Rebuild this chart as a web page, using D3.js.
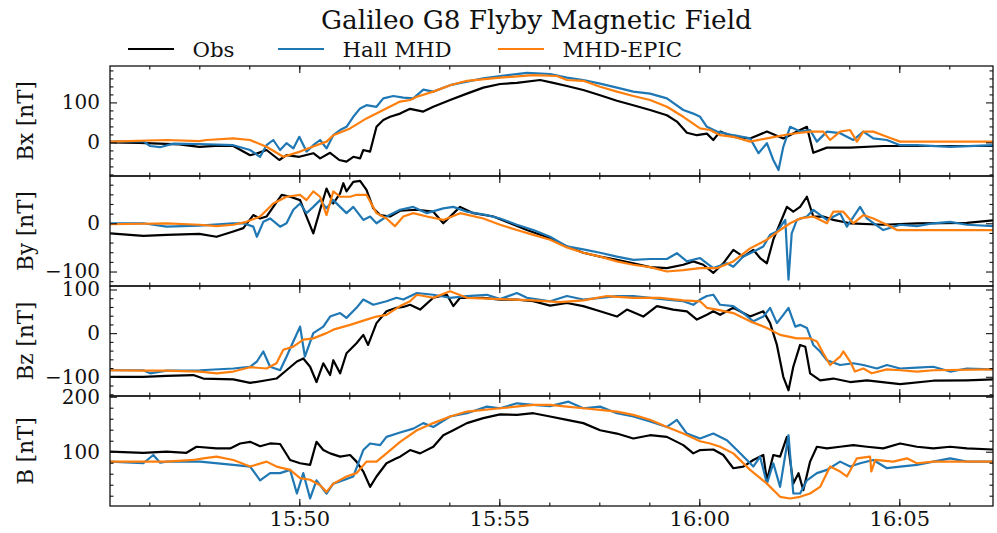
<!DOCTYPE html>
<html>
<head>
<meta charset="utf-8">
<script src="https://cdn.jsdelivr.net/npm/d3@7"></script>
<style>
  html, body { margin: 0; padding: 0; background: #fff; }
  svg { display: block; }
  text { font-family: "DejaVu Serif", serif; fill: #111; }
</style>
</head>
<body>
<svg id="chart" width="997" height="533"></svg>
<script>
// ---------------- DATA ----------------
// time in minutes after 15:45 (UT), values in nT
const title = "Galileo G8 Flyby Magnetic Field";
const seriesNames = ["Obs", "Hall MHD", "MHD-EPIC"];
const seriesColors = ["#000000", "#1f77b4", "#ff7f0e"];
const panelLabels = ["Bx [nT]", "By [nT]", "Bz [nT]", "B [nT]"];
const panelDomains = [[-84, 191], [-130, 98], [-144, 108], [1.3, 201.3]];
const panelMajorTicks = [[0, 100], [-100, 0], [-100, 0, 100], [100, 200]];
const timeRangeMin = [0.2675, 22.3425];
const xTickMinutes = [5, 10, 15, 20];

const bxObs = [[0.27,0],[1.0,-1],[2.0,-5],[2.5,-11],[3.0,-8],[3.35,-9],[3.77,-32],[3.93,-28],[4.18,-19],[4.5,-44],[4.68,-32],[5.0,-36],[5.35,-27],[5.52,-40],[5.77,-26],[6.0,-44],[6.18,-48],[6.35,-36],[6.52,-40],[6.6,-19],[6.77,-23],[6.93,39],[7.1,56],[7.27,64],[7.52,72],[7.77,84],[8.1,77],[8.35,89],[8.77,106],[9.19,122],[9.6,137],[10.02,146],[10.44,149],[11.02,156],[11.35,149],[11.69,141],[12.1,131],[12.52,118],[12.94,104],[13.35,93],[13.77,81],[14.19,68],[14.44,52],[14.69,24],[14.94,18],[15.19,22],[15.35,6],[15.52,27],[15.85,14],[16.27,10],[16.69,27],[17.1,10],[17.52,31],[17.69,39],[17.85,-26],[18.19,-13],[18.77,-13],[19.6,-9],[20.44,-9],[21.27,-9],[22.35,-9]];
const bxHall = [[0.27,2],[1.1,3],[1.27,-9],[1.52,-12],[1.85,-3],[2.5,-4],[3.35,-7],[3.77,-19],[4.02,-36],[4.18,-7],[4.35,6],[4.52,-19],[4.68,-2],[4.85,-15],[5.0,14],[5.18,-23],[5.35,-7],[5.52,6],[5.68,-15],[5.85,18],[6.02,31],[6.18,39],[6.35,64],[6.52,85],[6.68,93],[6.93,89],[7.1,110],[7.35,116],[7.6,112],[7.85,110],[8.1,132],[8.35,127],[8.77,143],[9.19,152],[9.6,160],[10.02,166],[10.69,174],[11.27,171],[11.69,162],[12.1,156],[12.52,147],[12.94,137],[13.35,127],[13.77,122],[14.19,110],[14.6,81],[14.85,72],[15.02,64],[15.19,39],[15.44,27],[15.85,18],[16.27,10],[16.48,-27],[16.69,-2],[16.85,-44],[16.98,-69],[17.1,-11],[17.27,39],[17.52,27],[17.77,31],[17.94,2],[18.19,27],[18.52,23],[18.85,6],[19.1,27],[19.35,10],[19.69,6],[20.02,-7],[20.44,-7],[21.27,-11],[22.35,-7]];
const bxEpic = [[0.27,2],[1.68,6],[2.5,3],[2.68,6],[3.35,10],[3.77,6],[4.18,-11],[4.6,-36],[5.02,-23],[5.43,-7],[5.68,2],[5.85,18],[6.27,35],[6.68,60],[7.1,81],[7.52,102],[7.77,106],[7.94,114],[8.35,127],[8.77,143],[9.19,154],[10.02,162],[10.85,168],[11.44,166],[11.69,156],[12.1,154],[12.52,139],[12.94,127],[13.35,116],[13.77,106],[14.19,89],[14.6,64],[15.02,35],[15.27,31],[15.52,18],[15.85,14],[16.27,2],[16.69,10],[17.27,21],[17.77,27],[18.1,27],[18.27,6],[18.52,27],[18.77,31],[18.94,2],[19.1,27],[19.35,27],[19.69,14],[20.02,2],[21.0,2],[22.35,2]];

const byObs = [[0.27,-21],[1.1,-26],[1.68,-24],[2.5,-22],[2.93,-28],[3.35,-17],[3.6,-10],[3.85,17],[4.02,10],[4.18,14],[4.35,34],[4.56,59],[4.77,55],[5.02,48],[5.18,14],[5.35,-21],[5.52,28],[5.68,72],[5.85,41],[6.02,62],[6.1,83],[6.18,66],[6.35,86],[6.52,88],[6.68,69],[6.85,31],[7.02,17],[7.27,14],[7.52,26],[7.94,28],[8.35,24],[8.6,0],[9.02,34],[9.35,21],[9.85,14],[10.27,0],[10.69,-14],[11.27,-31],[11.69,-48],[12.1,-61],[12.52,-69],[12.94,-76],[13.35,-83],[13.77,-91],[14.19,-93],[14.6,-86],[14.85,-79],[15.1,-86],[15.35,-103],[15.6,-83],[15.85,-55],[16.1,-69],[16.35,-55],[16.52,-72],[16.69,-83],[16.85,-34],[17.02,0],[17.19,34],[17.35,24],[17.52,34],[17.69,55],[17.85,14],[18.1,14],[18.35,7],[18.77,0],[19.6,-3],[20.44,0],[21.69,1],[22.35,6]];
const byHall = [[0.27,0],[1.1,0],[1.68,-7],[2.5,-5],[3.35,0],[3.6,0],[3.85,-7],[3.94,-28],[4.1,3],[4.27,10],[4.52,-7],[4.68,0],[4.85,28],[5.02,41],[5.18,21],[5.35,34],[5.52,48],[5.68,31],[5.85,48],[6.02,34],[6.18,21],[6.35,34],[6.6,7],[6.77,14],[6.93,0],[7.18,14],[7.52,28],[7.85,34],[8.19,21],[8.6,31],[8.85,34],[9.19,24],[9.69,17],[10.02,10],[10.44,-3],[10.85,-14],[11.27,-28],[11.69,-48],[12.1,-54],[12.52,-61],[12.94,-69],[13.35,-76],[13.77,-74],[14.19,-74],[14.44,-62],[14.69,-79],[15.02,-72],[15.19,-83],[15.35,-93],[15.69,-83],[15.85,-90],[16.1,-69],[16.35,-59],[16.6,-48],[16.77,-24],[16.94,-17],[17.15,7],[17.23,-117],[17.31,-21],[17.44,7],[17.69,14],[17.85,28],[18.19,7],[18.52,21],[18.69,-7],[19.02,34],[19.19,10],[19.6,-14],[20.02,-3],[20.44,-6],[20.85,0],[21.27,3],[21.69,-3],[22.35,-6]];
const byEpic = [[0.27,-2],[1.1,-1],[1.68,0],[2.5,-3],[2.93,-6],[3.35,-3],[3.68,3],[4.02,14],[4.35,41],[4.68,55],[5.02,59],[5.18,48],[5.35,66],[5.52,55],[5.68,17],[5.85,66],[6.02,55],[6.27,55],[6.43,59],[6.68,59],[6.93,21],[7.18,10],[7.39,-6],[7.6,14],[7.85,21],[8.19,14],[8.6,7],[9.02,21],[9.6,10],[10.02,-3],[10.44,-14],[10.85,-24],[11.27,-34],[11.69,-50],[12.1,-61],[12.52,-69],[12.94,-79],[13.35,-86],[13.77,-91],[14.19,-100],[14.6,-97],[15.02,-93],[15.44,-93],[15.85,-79],[16.27,-52],[16.69,-34],[17.02,-14],[17.27,0],[17.52,10],[17.85,14],[18.19,0],[18.35,24],[18.6,24],[18.85,0],[19.1,17],[19.35,10],[19.69,-3],[19.94,-14],[20.85,-14],[22.35,-14]];

const bzObs = [[0.27,-100],[1.1,-100],[1.68,-98],[2.35,-96],[2.6,-104],[3.35,-106],[3.77,-114],[4.18,-108],[4.43,-104],[4.68,-85],[4.94,-65],[5.1,-58],[5.27,-77],[5.43,-112],[5.6,-69],[5.77,-96],[5.85,-62],[6.02,-92],[6.18,-46],[6.43,-23],[6.6,-4],[6.72,-27],[6.93,23],[7.18,50],[7.43,58],[7.6,60],[7.77,65],[8.02,54],[8.35,81],[8.69,88],[8.85,62],[9.02,81],[9.6,81],[10.02,77],[10.44,77],[10.85,73],[11.27,63],[11.69,69],[12.1,62],[12.52,50],[12.94,38],[13.19,54],[13.6,38],[13.94,62],[14.35,54],[14.69,50],[14.94,31],[15.19,42],[15.35,50],[15.52,42],[15.85,58],[16.27,38],[16.6,50],[16.77,23],[16.94,-27],[17.1,-100],[17.23,-131],[17.35,-77],[17.52,-27],[17.65,-31],[17.77,-92],[18.02,-108],[18.35,-104],[18.77,-112],[19.19,-108],[20.02,-117],[20.85,-109],[21.69,-108],[22.35,-106]];
const bzHall = [[0.27,-85],[1.1,-85],[1.27,-92],[1.68,-86],[2.52,-85],[3.35,-81],[3.77,-77],[3.94,-65],[4.1,-42],[4.27,-77],[4.52,-85],[4.68,-54],[4.85,-19],[5.02,15],[5.14,-54],[5.35,0],[5.6,15],[5.77,38],[6.02,46],[6.18,35],[6.43,58],[6.6,77],[6.85,65],[7.18,73],[7.43,81],[7.6,77],[7.94,92],[8.35,88],[8.77,81],[9.19,85],[9.69,88],[10.02,78],[10.44,92],[10.69,81],[11.27,73],[11.69,85],[12.1,77],[12.52,81],[12.94,85],[13.35,85],[13.77,81],[14.19,77],[14.6,73],[14.85,65],[15.02,77],[15.19,85],[15.35,88],[15.52,65],[15.85,62],[16.1,46],[16.35,27],[16.6,38],[16.77,58],[16.94,23],[17.1,42],[17.23,58],[17.4,15],[17.52,19],[17.69,12],[17.85,-27],[18.02,-42],[18.19,-62],[18.52,-73],[18.85,-69],[19.1,-73],[19.44,-81],[19.69,-73],[20.02,-81],[20.44,-79],[20.85,-77],[21.27,-88],[21.69,-81],[22.35,-83]];
const bzEpic = [[0.27,-85],[1.1,-86],[1.68,-86],[2.52,-88],[2.93,-92],[3.35,-88],[3.77,-78],[4.18,-81],[4.43,-69],[4.6,-38],[4.85,-31],[5.1,-15],[5.35,-12],[5.68,0],[5.85,8],[6.27,19],[6.68,31],[6.93,38],[7.18,42],[7.52,62],[7.77,73],[7.94,88],[8.35,81],[8.77,96],[9.19,81],[10.02,78],[10.85,75],[11.52,71],[12.1,75],[12.69,85],[13.35,81],[14.02,81],[14.6,75],[15.02,73],[15.19,58],[15.44,54],[15.85,46],[16.27,27],[16.69,12],[17.02,-4],[17.44,-12],[17.77,-12],[17.94,-19],[18.1,-46],[18.27,-73],[18.52,-54],[18.6,-42],[18.77,-65],[18.89,-88],[19.1,-81],[19.31,-92],[19.69,-83],[20.02,-85],[20.44,-88],[20.85,-85],[22.35,-83]];

const bObs = [[0.27,100],[1.1,98],[1.68,100],[2.18,98],[2.43,109],[2.93,106],[3.27,106],[3.52,115],[3.77,118],[4.02,110],[4.27,115],[4.52,114],[4.77,85],[5.02,79],[5.27,76],[5.43,118],[5.6,103],[5.77,97],[6.02,91],[6.27,94],[6.43,82],[6.6,64],[6.77,36],[6.93,55],[7.18,79],[7.43,88],[7.52,91],[7.77,103],[8.02,97],[8.35,109],[8.6,130],[8.85,139],[9.19,152],[9.6,161],[10.02,168],[10.44,167],[10.85,170],[11.27,164],[11.69,158],[12.1,152],[12.52,139],[12.94,133],[13.35,124],[13.77,130],[14.19,127],[14.6,112],[14.85,97],[15.02,103],[15.35,104],[15.6,94],[15.85,70],[16.1,73],[16.35,85],[16.6,94],[16.69,48],[16.85,94],[17.02,91],[17.19,127],[17.35,42],[17.48,61],[17.6,30],[17.77,82],[17.94,109],[18.19,106],[18.52,109],[18.85,112],[19.19,109],[19.6,106],[20.02,115],[20.44,109],[20.85,106],[21.27,109],[21.69,106],[22.35,104]];
const bHall = [[0.27,82],[1.1,79],[1.35,94],[1.52,80],[1.68,82],[2.52,82],[3.35,76],[3.77,73],[4.02,48],[4.27,61],[4.52,61],[4.77,67],[4.94,24],[5.1,61],[5.27,15],[5.43,48],[5.68,24],[5.85,42],[6.1,48],[6.35,55],[6.6,103],[6.77,115],[7.02,112],[7.18,127],[7.52,135],[7.85,142],[8.1,152],[8.35,145],[8.77,164],[9.19,170],[9.69,182],[10.02,179],[10.44,188],[10.85,185],[11.27,183],[11.73,191],[12.1,179],[12.52,182],[12.94,170],[13.35,164],[13.77,155],[14.19,145],[14.44,158],[14.69,133],[15.02,124],[15.35,133],[15.69,121],[15.94,103],[16.19,85],[16.35,73],[16.52,91],[16.69,42],[16.85,79],[17.02,36],[17.23,130],[17.35,24],[17.52,24],[17.69,48],[17.94,61],[18.19,67],[18.52,82],[18.77,73],[19.02,79],[19.35,85],[19.69,70],[20.02,73],[20.44,76],[20.85,82],[21.27,88],[21.69,82],[22.35,82]];
const bEpic = [[0.27,82],[1.1,82],[1.68,82],[2.35,85],[2.6,88],[2.93,91],[3.35,85],[3.77,73],[4.18,82],[4.43,73],[4.77,67],[5.02,52],[5.27,49],[5.52,39],[5.68,27],[5.85,42],[6.18,55],[6.43,61],[6.68,82],[6.93,82],[7.18,97],[7.52,118],[7.94,139],[8.35,152],[8.77,164],[9.19,173],[10.02,179],[10.85,185],[11.27,185],[11.69,182],[12.1,179],[12.52,176],[12.94,173],[13.35,167],[13.77,158],[14.19,145],[14.6,133],[15.02,119],[15.27,115],[15.52,109],[15.85,97],[16.27,67],[16.69,42],[17.02,18],[17.27,15],[17.52,18],[17.77,24],[18.02,36],[18.27,73],[18.52,64],[18.69,55],[18.94,88],[19.27,91],[19.3,64],[19.4,85],[19.85,82],[20.19,88],[20.44,79],[20.85,82],[22.35,82]];

const panelSeries = [
  [bxObs, bxHall, bxEpic],
  [byObs, byHall, byEpic],
  [bzObs, bzHall, bzEpic],
  [bObs, bHall, bEpic]
];

// ---------------- LAYOUT ----------------
const svg = d3.select("#chart");
const W = 997, H = 533;
const left = 110, right = 993;
const panelTops = [66, 176, 286, 396];
const panelH = 110;

svg.append("rect").attr("width", W).attr("height", H).attr("fill", "#fff");

const base = Date.UTC(1997, 4, 7, 15, 45, 0);
const toDate = m => new Date(base + m * 60000);

const x = d3.scaleUtc()
  .domain(timeRangeMin.map(toDate))
  .range([left, right]);

const majorX = xTickMinutes.map(toDate);
const minorX = d3.range(0, 24, 1.25).map(toDate)
  .filter(d => d >= x.domain()[0] && d <= x.domain()[1]);
const fmt = d3.utcFormat("%H:%M");

panelTops.forEach((top, i) => {
  const y = d3.scaleLinear().domain(panelDomains[i]).range([top + panelH, top]);
  const g = svg.append("g");

  const clipId = "clip" + i;
  svg.append("clipPath").attr("id", clipId)
    .append("rect").attr("x", left).attr("y", top).attr("width", right - left).attr("height", panelH);

  // lines
  const line = d3.line().x(d => x(toDate(d[0]))).y(d => y(d[1]));
  const lg = g.append("g").attr("clip-path", `url(#${clipId})`);
  panelSeries[i].forEach((s, k) => {
    lg.append("path").datum(s)
      .attr("d", line)
      .attr("fill", "none")
      .attr("stroke", seriesColors[k])
      .attr("stroke-width", 2.2)
      .attr("stroke-linejoin", "round");
  });

  // y minor ticks
  const [lo, hi] = panelDomains[i];
  const minorY = d3.range(Math.ceil(lo / 20) * 20, hi + 0.001, 20).filter(v => v % 100 !== 0);

  const styleAxis = size => sel => {
    sel.select(".domain").remove();
    sel.selectAll("line").attr("stroke", "#111").attr("stroke-width", 1.1);
    sel.selectAll("text").style("font-family", "'DejaVu Serif', serif").style("font-size", size + "px").attr("fill", "#111");
  };

  g.append("g").attr("transform", `translate(${left},0)`)
    .call(d3.axisLeft(y).tickValues(panelMajorTicks[i]).tickSizeInner(-7).tickSizeOuter(0).tickPadding(10)
      .tickFormat(v => v < 0 ? "\u2212" + Math.abs(v) : String(v)))
    .call(styleAxis(20));
  g.append("g").attr("transform", `translate(${left},0)`)
    .call(d3.axisLeft(y).tickValues(minorY).tickSizeInner(-3.5).tickSizeOuter(0).tickFormat(""))
    .call(styleAxis(20));
  g.append("g").attr("transform", `translate(${right},0)`)
    .call(d3.axisRight(y).tickValues(panelMajorTicks[i]).tickSizeInner(-7).tickSizeOuter(0).tickFormat(""))
    .call(styleAxis(20));
  g.append("g").attr("transform", `translate(${right},0)`)
    .call(d3.axisRight(y).tickValues(minorY).tickSizeInner(-3.5).tickSizeOuter(0).tickFormat(""))
    .call(styleAxis(20));

  // x ticks top and bottom
  g.append("g").attr("transform", `translate(0,${top})`)
    .call(d3.axisTop(x).tickValues(majorX).tickSizeInner(-7).tickSizeOuter(0).tickFormat(""))
    .call(styleAxis(20));
  g.append("g").attr("transform", `translate(0,${top})`)
    .call(d3.axisTop(x).tickValues(minorX).tickSizeInner(-3.5).tickSizeOuter(0).tickFormat(""))
    .call(styleAxis(20));
  const isLast = i === panelTops.length - 1;
  g.append("g").attr("transform", `translate(0,${top + panelH})`)
    .call(d3.axisBottom(x).tickValues(majorX).tickSizeInner(-7).tickSizeOuter(0).tickPadding(5)
      .tickFormat(isLast ? fmt : () => ""))
    .call(styleAxis(21));
  g.append("g").attr("transform", `translate(0,${top + panelH})`)
    .call(d3.axisBottom(x).tickValues(minorX).tickSizeInner(-3.5).tickSizeOuter(0).tickFormat(""))
    .call(styleAxis(20));

  // frame
  g.append("rect").attr("x", left).attr("y", top).attr("width", right - left).attr("height", panelH)
    .attr("fill", "none").attr("stroke", "#111").attr("stroke-width", 1.3);

  // y label
  g.append("text")
    .attr("transform", `translate(33,${top + panelH / 2}) rotate(-90)`)
    .attr("text-anchor", "middle")
    .style("font-size", "21.5px")
    .text(panelLabels[i]);
});

// title
svg.append("text").attr("x", 536.5).attr("y", 29).attr("text-anchor", "middle")
  .style("font-size", "26.3px").text(title);

// legend
const legendLineX = [128, 278, 498];
seriesNames.forEach((name, k) => {
  const lx = legendLineX[k];
  svg.append("line").attr("x1", lx).attr("x2", lx + 46).attr("y1", 49).attr("y2", 49)
    .attr("stroke", seriesColors[k]).attr("stroke-width", 2.2);
  svg.append("text").attr("x", lx + 64.5).attr("y", 57).style("font-size", "21.3px").text(name);
});
</script>
</body>
</html>
